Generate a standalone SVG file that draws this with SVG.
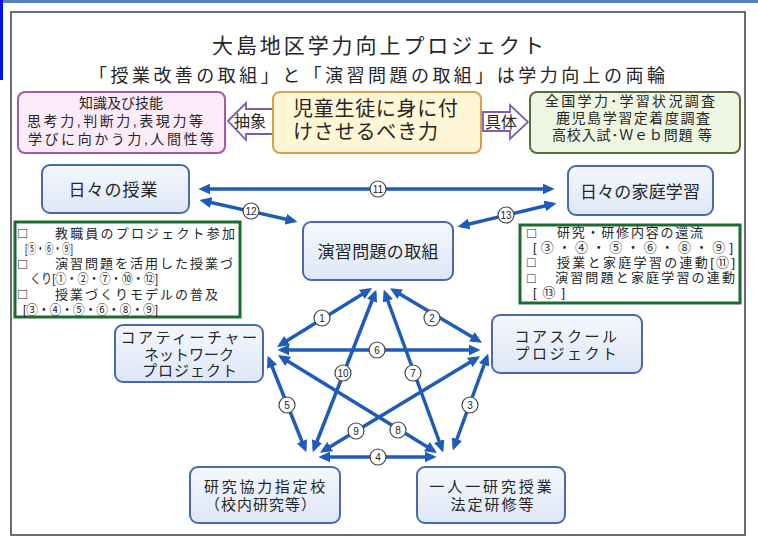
<svg xmlns="http://www.w3.org/2000/svg" width="758" height="538" viewBox="0 0 758 538">
<style>
text{font-family:"Liberation Sans","Noto Sans CJK JP","Noto Sans CJK SC",sans-serif;fill:#262626}
.jp{font-family:"Noto Sans CJK JP","Noto Sans CJK SC",sans-serif}
.node{fill:url(#nodeg);stroke:#4a68b0;stroke-width:2}
.nt{font-size:17px;text-anchor:middle}
.mt{font-size:15px;text-anchor:middle}
.ct{font-size:13px}
.sq{font-size:15px}
.sq2{font-size:14px}
.cb{fill:#fff;stroke:#1d6b2e;stroke-width:3}
.e{stroke:#1f5cb8;stroke-width:3.5;fill:none;marker-start:url(#ah);marker-end:url(#ah)}
.lc{fill:#fff;stroke:#444;stroke-width:1.2}
.lt{font-size:10px;text-anchor:middle}
.bt{font-size:14px;text-anchor:middle}
</style>
<defs>
<linearGradient id="nodeg" x1="0" y1="0" x2="0" y2="1"><stop offset="0" stop-color="#f5f8fd"/><stop offset="1" stop-color="#dde7f6"/></linearGradient>
<marker id="ah" viewBox="0 0 10 10" refX="7" refY="5" markerWidth="12" markerHeight="11" markerUnits="userSpaceOnUse" orient="auto-start-reverse" preserveAspectRatio="none"><path d="M0,0 L10,5 L0,10 z" fill="#1f5cb8"/></marker>
</defs>
<rect x="0" y="0" width="758" height="538" fill="#fff"/>
<rect x="0" y="0" width="758" height="3" fill="#5580b8"/>
<rect x="0" y="0" width="3" height="80" fill="#0010e8"/>
<rect x="11" y="12" width="734" height="523" fill="#fff" stroke="#3c3c48" stroke-width="1.5"/>
<g id="title">
<text class="jp" x="378" y="53" font-size="21" textLength="332" lengthAdjust="spacing" text-anchor="middle">大島地区学力向上プロジェクト</text>
<text class="jp" x="377" y="82" font-size="18" textLength="576" lengthAdjust="spacing" text-anchor="middle">「授業改善の取組」と「演習問題の取組」は学力向上の両輪</text>
</g>
<g id="abstract-box">
<rect x="18" y="92" width="207" height="61" rx="7" fill="#fbeaf8" stroke="#a35aa8" stroke-width="2"/>
<text class="bt" x="121" y="108">知識及び技能</text>
<text class="bt" x="115" y="126" textLength="176" lengthAdjust="spacing">思考力,判断力,表現力等</text>
<text class="bt" x="121" y="144" textLength="186" lengthAdjust="spacing">学びに向かう力,人間性等</text>
</g>
<g id="arrow-abstract">
<polygon points="228,121 246,103 246,109 273,109 273,134 246,134 246,140" fill="#fff" stroke="#7b5bb8" stroke-width="1.8"/>
<text class="jp" x="250" y="127" font-size="16" text-anchor="middle">抽象</text>
</g>
<g id="core-box">
<rect x="273" y="92" width="208" height="61" rx="7" fill="#fff6d5" stroke="#d7a24a" stroke-width="2"/>
<text x="293" y="116" font-size="20" textLength="165" lengthAdjust="spacing">児童生徒に身に付</text>
<text x="293" y="139" font-size="20" textLength="145" lengthAdjust="spacing">けさせるべき力</text>
</g>
<g id="arrow-concrete">
<polygon points="483,112 510,112 510,105 528,122 510,139 510,131 483,131" fill="#fff" stroke="#7b5bb8" stroke-width="1.8"/>
<text class="jp" x="501" y="128" font-size="16" text-anchor="middle">具体</text>
</g>
<g id="concrete-box">
<rect x="530" y="92" width="210" height="61" rx="7" fill="#eef6e2" stroke="#5a6a40" stroke-width="2"/>
<text class="bt" x="630" y="106" textLength="170" lengthAdjust="spacing">全国学力･学習状況調査</text>
<text class="bt" x="633" y="123" textLength="154" lengthAdjust="spacing">鹿児島学習定着度調査</text>
<text class="bt" x="632" y="140" textLength="160" lengthAdjust="spacing">高校入試･Ｗｅｂ問題 等</text>
</g>
<g id="n-jugyo"><rect class="node" x="42" y="165" width="147" height="48" rx="8"/><text class="nt jp" x="113" y="196" textLength="89" lengthAdjust="spacing">日々の授業</text></g>
<g id="n-katei"><rect class="node" x="568" y="166" width="145" height="49" rx="8"/><text class="nt jp" x="640" y="198" textLength="120" lengthAdjust="spacing">日々の家庭学習</text></g>
<g id="n-enshu"><rect class="node" x="303" y="222" width="150" height="58" rx="8"/><text class="nt jp" x="378" y="258" textLength="121" lengthAdjust="spacing">演習問題の取組</text></g>
<g id="n-coreteacher"><rect class="node" x="115" y="325" width="148" height="57" rx="8"/>
<text class="mt" x="190" y="343" letter-spacing="2.5">コアティーチャー</text>
<text class="mt" x="189" y="359.5">ネットワーク</text>
<text class="mt" x="190" y="376" letter-spacing="1">プロジェクト</text></g>
<g id="n-coreschool"><rect class="node" x="492" y="315" width="150" height="58" rx="8"/>
<text class="mt" x="567" y="342" letter-spacing="2.5">コアスクール</text>
<text class="mt" x="567" y="359" letter-spacing="2.5">プロジェクト</text></g>
<g id="n-kenkyu"><rect class="node" x="190" y="467" width="150" height="56" rx="8"/>
<text class="mt" x="266" y="492" letter-spacing="2.7">研究協力指定校</text>
<text class="mt" x="261" y="510" letter-spacing="1">（校内研究等）</text></g>
<g id="n-hitori"><rect class="node" x="417" y="467" width="148" height="56" rx="8"/>
<text class="mt" x="492" y="492" letter-spacing="2.9">一人一研究授業</text>
<text class="mt" x="493" y="510" letter-spacing="2">法定研修等</text></g>
<g id="check-left">
<rect class="cb" x="15" y="222" width="225" height="95"/>
<text class="sq" x="18" y="238">□</text><text class="ct" x="55" y="237.5" textLength="180" lengthAdjust="spacing">教職員のプロジェクト参加</text>
<text class="ct" x="25" y="252.5" textLength="48" lengthAdjust="spacingAndGlyphs">[⑤・⑥・⑨]</text>
<text class="sq" x="18" y="268.5">□</text><text class="ct" x="55" y="268" textLength="178" lengthAdjust="spacing">演習問題を活用した授業づ</text>
<text class="ct" x="30" y="283" textLength="128" lengthAdjust="spacingAndGlyphs">くり[①・②・⑦・⑩・⑫]</text>
<text class="sq" x="18" y="299">□</text><text class="ct" x="55" y="298.5" textLength="163" lengthAdjust="spacing">授業づくりモデルの普及</text>
<text class="ct" x="23" y="313.5" textLength="135" lengthAdjust="spacingAndGlyphs">[③・④・⑤・⑥・⑧・⑨]</text>
</g>
<g id="check-right">
<rect class="cb" x="520" y="225" width="220" height="78"/>
<text class="sq" x="527" y="237.5">□</text><text class="ct" x="557" y="237" textLength="146" lengthAdjust="spacing">研究・研修内容の還流</text>
<text class="ct" x="533" y="252" textLength="200" lengthAdjust="spacing">[③・④・⑤・⑥・⑧・⑨]</text>
<text class="sq2" x="527" y="267">□</text><text class="ct" x="557" y="267" textLength="178" lengthAdjust="spacing">授業と家庭学習の連動[⑪]</text>
<text class="sq2" x="527" y="283">□</text><text class="ct" x="555" y="282" textLength="180" lengthAdjust="spacing">演習問題と家庭学習の連動</text>
<text class="ct" x="533" y="297" textLength="32" lengthAdjust="spacing">[⑬]</text>
</g>
<g id="connectors">
<line class="e" x1="202" y1="189" x2="551" y2="189"/>
<line class="e" x1="203" y1="200.7" x2="294" y2="221"/>
<line class="e" x1="461" y1="226" x2="553" y2="204"/>
<line class="e" x1="369" y1="290" x2="280" y2="345"/>
<line class="e" x1="393" y1="290" x2="479" y2="341"/>
<line class="e" x1="281" y1="350" x2="477" y2="350"/>
<line class="e" x1="375" y1="293" x2="314" y2="449"/>
<line class="e" x1="385" y1="293" x2="442" y2="449"/>
<line class="e" x1="269" y1="359" x2="305" y2="449"/>
<line class="e" x1="487" y1="357" x2="454" y2="447"/>
<line class="e" x1="281" y1="357" x2="434" y2="451"/>
<line class="e" x1="477" y1="358" x2="323" y2="451"/>
<line class="e" x1="322" y1="457" x2="433" y2="457"/>
<circle class="lc" cx="378" cy="189" r="8"/><text class="lt" x="378" y="192.5">11</text>
<circle class="lc" cx="251" cy="211" r="8"/><text class="lt" x="251" y="214.5">12</text>
<circle class="lc" cx="506" cy="215" r="8"/><text class="lt" x="506" y="218.5">13</text>
<circle class="lc" cx="322" cy="318" r="8"/><text class="lt" x="322" y="321.5">1</text>
<circle class="lc" cx="432" cy="318" r="8"/><text class="lt" x="432" y="321.5">2</text>
<circle class="lc" cx="470" cy="405" r="8"/><text class="lt" x="470" y="408.5">3</text>
<circle class="lc" cx="378" cy="457" r="8"/><text class="lt" x="378" y="460.5">4</text>
<circle class="lc" cx="287" cy="405" r="8"/><text class="lt" x="287" y="408.5">5</text>
<circle class="lc" cx="377" cy="350" r="8"/><text class="lt" x="377" y="353.5">6</text>
<circle class="lc" cx="413" cy="373" r="8"/><text class="lt" x="413" y="376.5">7</text>
<circle class="lc" cx="398" cy="430" r="8"/><text class="lt" x="398" y="433.5">8</text>
<circle class="lc" cx="356" cy="431" r="8"/><text class="lt" x="356" y="434.5">9</text>
<circle class="lc" cx="343" cy="373" r="8"/><text class="lt" x="343" y="376.5">10</text>
</g>
</svg>
